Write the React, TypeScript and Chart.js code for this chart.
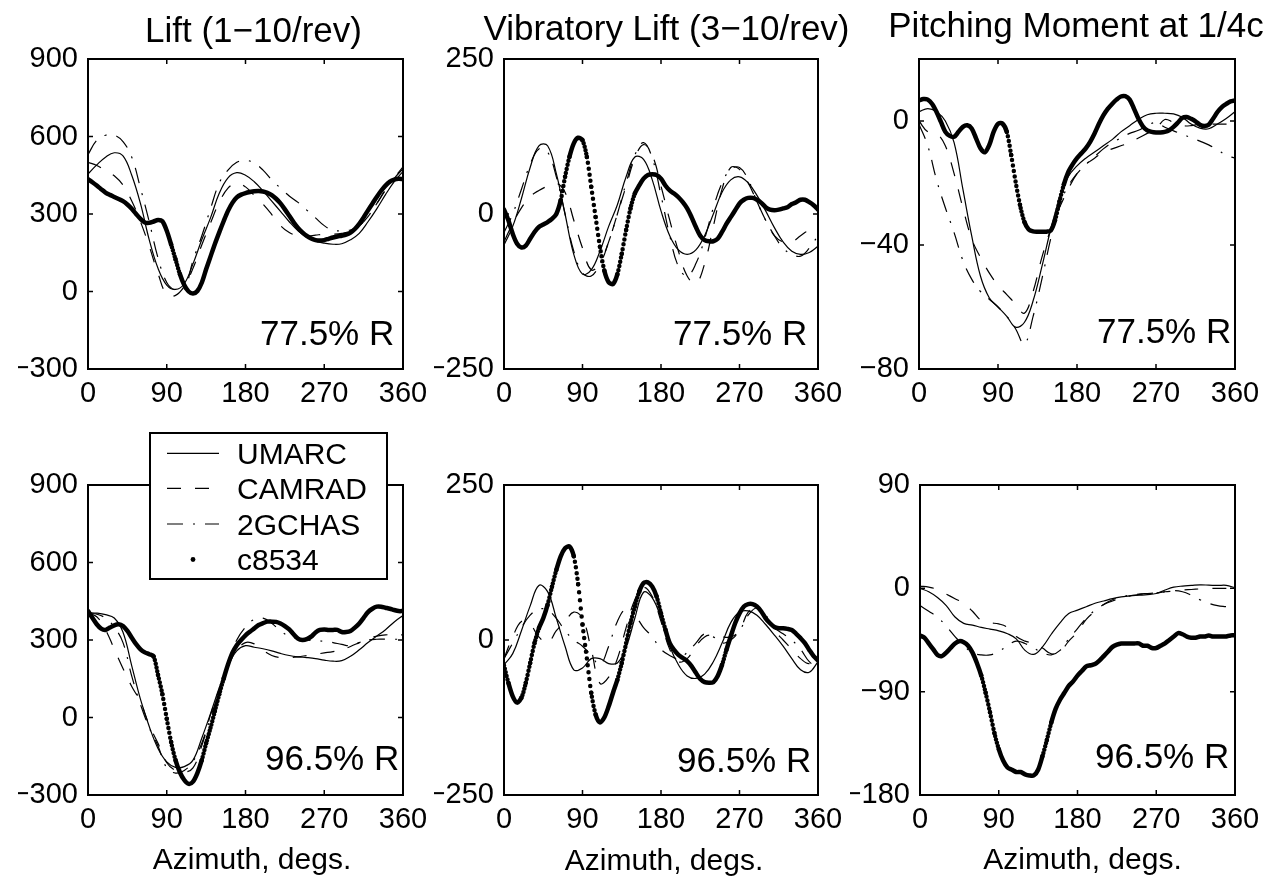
import React, { useEffect, useRef } from 'react';
import { Chart, registerables } from 'chart.js';

Chart.register(...registerables);

const W = 1287;
const H = 881;
const FONT = "'Liberation Sans', Arial, Helvetica, sans-serif";

// Azimuth grids (degrees)
const AZ_10 = [
  0, 10, 20, 30, 40, 50, 60, 70, 80,
  90, 100, 110, 120, 130, 140, 150, 160, 170,
  180, 190, 200, 210, 220, 230, 240, 250, 260,
  270, 280, 290, 300, 310, 320, 330, 340, 350,
  360,
];
const AZ_5 = [
  0, 5, 10, 15, 20, 25, 30, 35, 40,
  45, 50, 55, 60, 65, 70, 75, 80, 85,
  90, 95, 100, 105, 110, 115, 120, 125, 130,
  135, 140, 145, 150, 155, 160, 165, 170, 175,
  180, 185, 190, 195, 200, 205, 210, 215, 220,
  225, 230, 235, 240, 245, 250, 255, 260, 265,
  270, 275, 280, 285, 290, 295, 300, 305, 310,
  315, 320, 325, 330, 335, 340, 345, 350, 355,
  360,
];
const AZ_TICKS = [0, 90, 180, 270, 360];

const LIFT_TICKS = [-300, 0, 300, 600, 900];
const VIB_TICKS = [-250, 0, 250];
const PM_TICKS_775 = [-80, -40, 0];
const PM_TICKS_965 = [-180, -90, 0, 90];

const SERIES_NAMES = ['UMARC', 'CAMRAD', '2GCHAS', 'c8534'];
const TITLES = ['Lift (1\u221210/rev)', 'Vibratory Lift (3\u221210/rev)', 'Pitching Moment at 1/4c'];
const STATIONS = ['77.5% R', '96.5% R'];
const X_LABEL = 'Azimuth, degs.';

// ---------- Lift (1-10/rev), 77.5% R ----------
const lift775_umarc = [
  455, 490, 520, 537, 525, 450, 340, 200, 90,
  25, 8, 30, 107, 200, 285, 380, 440, 460,
  450, 425, 390, 350, 310, 270, 235, 210, 195,
  187, 183, 185, 200, 225, 270, 320, 375, 425,
  465,
];
const lift775_camrad = [
  500, 488, 468, 448, 412, 350, 270, 175, 70,
  -12, -15, 20, 90, 180, 265, 345, 400, 420,
  405, 372, 338, 298, 255, 228, 216, 214, 218,
  222, 222, 225, 234, 254, 290, 340, 392, 438,
  475,
];
const lift775_2gchas = [
  530, 585, 605, 605, 580, 520, 400, 270, 130,
  35, 5, 10, 120, 215, 320, 420, 470, 500,
  508, 497, 470, 432, 400, 370, 345, 315, 285,
  255, 237, 235, 238, 255, 290, 340, 395, 440,
  482,
];
const lift775_c8534 = [
  435, 423, 410, 396, 383, 374, 366, 358, 350,
  337, 320, 300, 281, 267, 266, 271, 277, 272,
  235, 182, 125, 68, 25, 0, -8, 2, 34,
  86, 135, 184, 229, 272, 312, 343, 364, 375,
  381, 385, 388, 389, 387, 382, 373, 359, 341,
  318, 293, 268, 246, 229, 215, 205, 199, 197,
  199, 204, 209, 213, 216, 220, 228, 242, 262,
  287, 314, 340, 366, 390, 410, 425, 433, 436,
  435,
];

// ---------- Vibratory lift (3-10/rev), 77.5% R ----------
const vib775_umarc = [
  -50, -20, 25, 75, 110, 110, 65, 0, -65,
  -97, -90, -60, -20, 15, 60, 92, 88, 55,
  5, -35, -58, -65, -58, -35, 0, 35, 55,
  60, 50, 30, 5, -22, -45, -60, -65, -62,
  -52,
];
const vib775_camrad = [
  -45, -15, 10, 28, 38, 45, 50, 35, -10,
  -55, -90, -80, -45, 0, 45, 90, 112, 95,
  45, -10, -60, -100, -112, -80, -20, 40, 75,
  72, 50, 20, -10, -35, -45, -45, -35, -25,
  -15,
];
const vib775_2gchas = [
  -30, 0, 40, 80, 105, 100, 60, 0, -60,
  -95, -100, -80, -45, 0, 50, 95, 115, 90,
  30, -35, -85, -100, -80, -40, 10, 50, 72,
  75, 55, 20, -10, -35, -55, -65, -68, -55,
  -35,
];
const vib775_c8534 = [
  7, -10, -32, -48, -54, -51, -40, -29, -21,
  -17, -13, -8, 0, 22, 60, 92, 114, 123,
  119, 92, 44, -5, -53, -91, -110, -113, -97,
  -64, -26, 9, 33, 46, 57, 63, 64, 63,
  57, 46, 38, 33, 27, 19, 9, -5, -21,
  -35, -42, -44, -44, -40, -29, -16, -5, 6,
  17, 23, 26, 26, 23, 18, 11, 7, 6,
  7, 9, 11, 16, 19, 23, 23, 19, 14,
  7,
];

// ---------- Pitching moment at 1/4c, 77.5% R ----------
const pm775_umarc = [
  3, 4, 3, 0, -7, -22, -37, -50, -57,
  -60, -63, -66.5, -65, -58, -47, -35, -25, -18,
  -14.5, -12, -10, -8, -6, -3.5, -1.5, 0.5, 2,
  2.5, 2.5, 2.3, 1.2, -1, -2.3, -2.5, -1, 0.8,
  3,
];
const pm775_camrad = [
  0, -3.5, -4, -8, -17, -28, -38, -44, -49,
  -53, -56, -59, -62, -55, -44, -35, -28, -22,
  -17, -14, -12, -10, -9, -8, -7, -5.5, -4,
  -2.5, 0.5, -0.5, -1.5, -1.5, -1, -1, -1, -1,
  -1,
];
const pm775_2gchas = [
  -1, -8, -19, -28, -36, -45, -51, -55, -57.5,
  -60, -63, -67, -72, -63, -51, -38, -27, -21,
  -17, -14, -11.5, -9, -7, -5.5, -4, -3, -1.5,
  -0.5, -2, -3.2, -4.3, -5.4, -6.5, -7.7, -9.3, -11,
  -12,
];
const pm775_c8534 = [
  6.6, 7.1, 6.9, 5.5, 2.9, -0.3, -3.5, -4.8, -5.1,
  -3.5, -1.9, -1.4, -2.4, -5.6, -8.8, -10.1, -7.8, -3.5,
  -0.9, -0.8, -3.5, -11.0, -19.5, -27.0, -32.5, -35.0, -35.6,
  -35.7, -35.7, -35.7, -35.4, -32.0, -26.0, -20.5, -16.5, -14.0,
  -12.0, -10.4, -8.8, -6.7, -4.0, -0.9, 1.8, 3.9, 5.5,
  6.9, 7.9, 8.0, 6.9, 3.9, 0.7, -1.7, -3.0, -3.5,
  -3.7, -3.7, -3.5, -3.0, -1.9, -0.5, 1.0, 1.3, 0.7,
  -0.1, -1.2, -1.6, -1.2, 0.7, 2.9, 4.5, 5.5, 6.3,
  6.6,
];

// ---------- Lift (1-10/rev), 96.5% R ----------
const lift965_umarc = [
  406, 404, 398, 385, 330, 200, 70, -35, -120,
  -172, -193, -190, -165, -80, 15, 115, 200, 258,
  278, 272, 266, 258, 248, 240, 235, 232, 228,
  222, 218, 220, 237, 262, 290, 315, 340, 370,
  395,
];
const lift965_camrad = [
  405, 390, 340, 265, 190, 120, 60, -30, -100,
  -175, -205, -212, -195, -110, 10, 110, 200, 260,
  290, 285, 260, 240, 232, 232, 235, 240, 245,
  250, 255, 262, 275, 290, 305, 315, 320, 320,
  320,
];
const lift965_2gchas = [
  405, 400, 385, 350, 290, 160, 50, -40, -110,
  -195, -215, -205, -170, -100, 0, 100, 215, 300,
  350, 380, 385, 365, 335, 315, 305, 300, 297,
  295, 290, 283, 278, 290, 300, 303, 303, 303,
  303,
];
const lift965_c8534 = [
  412, 386, 361, 344, 339, 348, 357, 361, 354,
  335, 309, 284, 264, 252, 245, 236, 165, 90,
  -5, -95, -165, -212, -242, -257, -248, -215, -165,
  -100, -40, 25, 90, 150, 205, 250, 280, 300,
  318, 332, 345, 358, 365, 371, 371, 370, 364,
  354, 341, 322, 305, 300, 303, 313, 329, 339,
  341, 339, 339, 339, 331, 331, 335, 348, 364,
  386, 408, 421, 429, 429, 425, 421, 416, 412,
  412,
];

// ---------- Vibratory lift (3-10/rev), 96.5% R ----------
const vib965_umarc = [
  -40, -22, 15, 55, 88, 78, 35, -10, -48,
  -45, -30, -30, -38, -37, -12, 35, 77, 68,
  35, -10, -40, -58, -62, -55, -35, -5, 28,
  45, 47, 40, 25, 8, -10, -30, -48, -52,
  -35,
];
const vib965_camrad = [
  -30, 5, 30, 25, 5, -5, 15, 30, 45,
  35, -15, -70, -60, -30, 20, 65, 85, 70,
  30, -15, -35, -30, -10, 5, 8, 5, 5,
  15, 45, 50, 35, 15, 0, -15, -30, -38,
  -25,
];
const vib965_2gchas = [
  -30, -5, 20, 40, 50, 48, 35, 15, 0,
  -10, -25, -40, -10, 30, 50, 40, 20, 5,
  -15, -25, -30, -20, -5, 10, 5, -5, 0,
  15, 40, 52, 40, 20, 10, 0, -15, -35,
  -45,
];
const vib965_c8534 = [
  -41, -69, -91, -101, -93, -69, -37, -5, 19,
  35, 57, 86, 113, 135, 148, 151, 135, 90,
  25, -30, -85, -120, -133, -125, -107, -85, -64,
  -37, -5, 27, 54, 78, 92, 93, 86, 70,
  43, 17, -5, -16, -24, -29, -34, -42, -53,
  -63, -68, -69, -68, -58, -40, -16, 6, 27,
  43, 54, 58, 58, 54, 46, 35, 27, 21,
  19, 19, 18, 16, 10, 3, -5, -16, -26,
  -33,
];

// ---------- Pitching moment at 1/4c, 96.5% R ----------
const pm965_umarc = [
  0, -3, -8, -15, -25, -30.5, -32, -34, -35.5,
  -37, -39.5, -44, -54, -57.5, -51, -40, -30, -22,
  -19, -16, -13, -11, -9, -7.5, -6.5, -6, -5.5,
  -4.5, -1.5, 1, 2, 2.5, 3, 2.8, 2.5, 2.6,
  0.5,
];
const pm965_camrad = [
  2, 1, -1, -5, -9, -13, -20, -28, -30,
  -31, -34, -42, -46, -48, -52, -57, -55, -46,
  -38, -27, -20, -14, -11, -8.5, -6.5, -5.5, -4.5,
  -4, -3, -2.3, -1.5, -1, -0.5, 0, 0, 0,
  0,
];
const pm965_2gchas = [
  -15, -20, -25, -33, -42, -50, -56, -58, -58,
  -55, -50, -46, -48, -52, -56, -58, -54, -44,
  -35, -26, -19, -14, -10, -7.5, -6, -5, -4.5,
  -4, -3, -2, -3, -6, -10, -13, -15, -16,
  -17,
];
const pm965_c8534 = [
  -41, -43, -48, -53, -58, -59, -56, -52, -48,
  -46, -47, -50, -56, -65, -76, -91, -108, -126,
  -140, -150, -156, -158, -160, -160, -162, -163, -163,
  -158, -146, -132, -117, -105, -97, -91, -85, -81,
  -76, -72, -68, -67, -66, -63, -59, -55, -51,
  -49, -48, -48, -48, -48, -48, -50, -50, -52,
  -52, -50, -48, -45, -42, -39, -40, -42, -43,
  -43, -42, -42, -41, -42, -42, -42, -42, -41,
  -41,
];

// ---------- styles ----------
const CAMRAD_DASH = [14, 14];
const GCHAS_DASH = [16, 10, 2, 10];
const THIN = 1.2;
const THICK = 4.5;
const Y_AXIS_W = 70;
const X_AXIS_H = 50;
const TICK_LEN = 5;

type Text = { text: string; x: number; y: number };
type Panel = {
  box: [number, number, number, number];
  yRange: [number, number];
  yTicks: number[];
  umarc: number[];
  camrad: number[];
  gchas: number[];
  test: number[];
  title?: Text;
  note: Text;
  xLabel?: { x: number; y: number };
  legend?: boolean;
};

const PANELS: Panel[] = [
  {
    box: [88, 59, 403, 369], yRange: [-300, 900], yTicks: LIFT_TICKS,
    umarc: lift775_umarc, camrad: lift775_camrad, gchas: lift775_2gchas, test: lift775_c8534,
    title: { text: TITLES[0], x: 253.5, y: 42 },
    note: { text: STATIONS[0], x: 260, y: 345 },
  },
  {
    box: [504, 59, 818, 369], yRange: [-250, 250], yTicks: VIB_TICKS,
    umarc: vib775_umarc, camrad: vib775_camrad, gchas: vib775_2gchas, test: vib775_c8534,
    title: { text: TITLES[1], x: 666.5, y: 40 },
    note: { text: STATIONS[0], x: 673, y: 345 },
  },
  {
    box: [919, 59, 1235, 369], yRange: [-80, 20], yTicks: PM_TICKS_775,
    umarc: pm775_umarc, camrad: pm775_camrad, gchas: pm775_2gchas, test: pm775_c8534,
    title: { text: TITLES[2], x: 1076, y: 37 },
    note: { text: STATIONS[0], x: 1097, y: 343 },
  },
  {
    box: [88, 485, 403, 795], yRange: [-300, 900], yTicks: LIFT_TICKS,
    umarc: lift965_umarc, camrad: lift965_camrad, gchas: lift965_2gchas, test: lift965_c8534,
    note: { text: STATIONS[1], x: 265, y: 770 },
    xLabel: { x: 252, y: 869 },
    legend: true,
  },
  {
    box: [504, 485, 818, 795], yRange: [-250, 250], yTicks: VIB_TICKS,
    umarc: vib965_umarc, camrad: vib965_camrad, gchas: vib965_2gchas, test: vib965_c8534,
    note: { text: STATIONS[1], x: 677, y: 772 },
    xLabel: { x: 664, y: 870 },
  },
  {
    box: [920, 485, 1235, 795], yRange: [-180, 90], yTicks: PM_TICKS_965,
    umarc: pm965_umarc, camrad: pm965_camrad, gchas: pm965_2gchas, test: pm965_c8534,
    note: { text: STATIONS[1], x: 1095, y: 768 },
    xLabel: { x: 1082.5, y: 869 },
  },
];

const fmt = (v: number) => (v < 0 ? '\u2212' + Math.abs(v) : String(v));
const toPoints = (xs: number[], ys: number[]) => xs.map((x, i) => ({ x, y: ys[i] }));

// The measured series was sampled every degree; where the curve is steep the
// individual samples separate, so steep segments are stroked as a row of dots.
const sampleDots = (ctx: any) => {
  const len = Math.hypot(ctx.p1.x - ctx.p0.x, ctx.p1.y - ctx.p0.y);
  const gap = len / 5;
  return gap > 3 ? [0, gap] : undefined;
};

function drawLegend(ctx: CanvasRenderingContext2D) {
  const x0 = 150, y0 = 433, w = 237, h = 146;
  ctx.save();
  ctx.fillStyle = '#fff';
  ctx.fillRect(x0, y0, w, h);
  ctx.strokeStyle = '#000';
  ctx.lineWidth = 2;
  ctx.setLineDash([]);
  ctx.strokeRect(x0, y0, w, h);
  const rows = [453.3, 488.3, 524, 559.5];
  const s0 = 167, s1 = 219, tx = 237;
  ctx.lineWidth = THIN;
  const dashes = [[], CAMRAD_DASH, GCHAS_DASH];
  for (let i = 0; i < 3; i++) {
    ctx.setLineDash(dashes[i]);
    ctx.beginPath();
    ctx.moveTo(s0, rows[i]);
    ctx.lineTo(s1, rows[i]);
    ctx.stroke();
  }
  ctx.setLineDash([]);
  ctx.fillStyle = '#000';
  ctx.beginPath();
  ctx.arc((s0 + s1) / 2, rows[3], 2.4, 0, Math.PI * 2);
  ctx.fill();
  ctx.font = `30px ${FONT}`;
  ctx.textAlign = 'left';
  ctx.textBaseline = 'alphabetic';
  SERIES_NAMES.forEach((name, i) => ctx.fillText(name, tx, rows[i] + 10.5));
  ctx.restore();
}

function framePlugin(p: Panel) {
  return {
    id: 'frame',
    afterDraw(chart: any) {
      const { ctx, chartArea: a, scales } = chart;
      ctx.save();
      ctx.setLineDash([]);
      ctx.strokeStyle = '#000';
      ctx.lineWidth = 2;
      ctx.strokeRect(a.left, a.top, a.right - a.left, a.bottom - a.top);

      // inward tick marks on all four sides
      ctx.lineWidth = 1.5;
      ctx.beginPath();
      for (const v of AZ_TICKS) {
        const x = scales.x.getPixelForValue(v);
        if (x <= a.left + 1 || x >= a.right - 1) continue;
        ctx.moveTo(x, a.bottom);
        ctx.lineTo(x, a.bottom - TICK_LEN);
        ctx.moveTo(x, a.top);
        ctx.lineTo(x, a.top + TICK_LEN);
      }
      for (const v of p.yTicks) {
        const y = scales.y.getPixelForValue(v);
        if (y <= a.top + 1 || y >= a.bottom - 1) continue;
        ctx.moveTo(a.left, y);
        ctx.lineTo(a.left + TICK_LEN, y);
        ctx.moveTo(a.right, y);
        ctx.lineTo(a.right - TICK_LEN, y);
      }
      ctx.stroke();

      ctx.fillStyle = '#000';
      ctx.textBaseline = 'alphabetic';
      ctx.font = `35px ${FONT}`;
      ctx.textAlign = 'left';
      ctx.fillText(p.note.text, p.note.x, p.note.y);
      if (p.title) {
        ctx.textAlign = 'center';
        ctx.fillText(p.title.text, p.title.x, p.title.y);
      }
      if (p.xLabel) {
        ctx.font = `30px ${FONT}`;
        ctx.textAlign = 'center';
        ctx.fillText(X_LABEL, p.xLabel.x, p.xLabel.y);
      }
      ctx.restore();
      if (p.legend) drawLegend(ctx);
    },
  };
}

function buildConfig(p: Panel): any {
  const [L, T, R, B] = p.box;
  const thin = {
    borderColor: '#000',
    borderWidth: THIN,
    pointRadius: 0,
    tension: 0.4,
    fill: false,
  };
  const tickFont = { family: FONT, size: 29 };
  return {
    type: 'line',
    data: {
      datasets: [
        {
          label: SERIES_NAMES[3],
          data: toPoints(AZ_5, p.test),
          borderColor: '#000',
          borderWidth: THICK,
          borderCapStyle: 'round',
          borderJoinStyle: 'round',
          pointRadius: 0,
          tension: 0.3,
          fill: false,
          order: 0,
          segment: { borderDash: sampleDots },
        },
        { label: SERIES_NAMES[0], data: toPoints(AZ_10, p.umarc), ...thin, order: 1 },
        { label: SERIES_NAMES[1], data: toPoints(AZ_10, p.camrad), ...thin, borderDash: CAMRAD_DASH, order: 2 },
        { label: SERIES_NAMES[2], data: toPoints(AZ_10, p.gchas), ...thin, borderDash: GCHAS_DASH, order: 3 },
      ],
    },
    options: {
      responsive: false,
      animation: false,
      devicePixelRatio: 1,
      events: [],
      layout: {
        padding: {
          left: L - Y_AXIS_W,
          top: T,
          right: W - R,
          bottom: H - B - X_AXIS_H,
        },
      },
      plugins: {
        legend: { display: false },
        tooltip: { enabled: false },
        title: { display: false },
      },
      scales: {
        x: {
          type: 'linear',
          min: 0,
          max: 360,
          afterBuildTicks: (s: any) => {
            s.ticks = AZ_TICKS.map((v) => ({ value: v }));
          },
          afterFit: (s: any) => {
            s.height = X_AXIS_H;
          },
          grid: { display: false, drawTicks: false },
          border: { display: false },
          ticks: {
            font: tickFont,
            color: '#000',
            padding: 8,
            maxRotation: 0,
            autoSkip: false,
            callback: (v: number) => fmt(v),
          },
        },
        y: {
          type: 'linear',
          min: p.yRange[0],
          max: p.yRange[1],
          afterBuildTicks: (s: any) => {
            s.ticks = p.yTicks.map((v) => ({ value: v }));
          },
          afterFit: (s: any) => {
            s.width = Y_AXIS_W;
          },
          grid: { display: false, drawTicks: false },
          border: { display: false },
          ticks: {
            font: tickFont,
            color: '#000',
            padding: 10,
            autoSkip: false,
            callback: (v: number) => fmt(v),
          },
        },
      },
    },
    plugins: [framePlugin(p)],
  };
}

function PanelChart({ panel }: { panel: Panel }) {
  const ref = useRef<HTMLCanvasElement>(null);
  useEffect(() => {
    if (!ref.current) return;
    const chart = new Chart(ref.current, buildConfig(panel));
    return () => chart.destroy();
  }, [panel]);
  return (
    <canvas
      ref={ref}
      width={W}
      height={H}
      style={{ position: 'absolute', left: 0, top: 0, width: W, height: H }}
    />
  );
}

export default function App() {
  return (
    <div
      style={{
        position: 'absolute',
        left: 0,
        top: 0,
        width: W,
        height: H,
        background: '#fff',
        overflow: 'hidden',
      }}
    >
      {PANELS.map((p, i) => (
        <PanelChart key={i} panel={p} />
      ))}
    </div>
  );
}
